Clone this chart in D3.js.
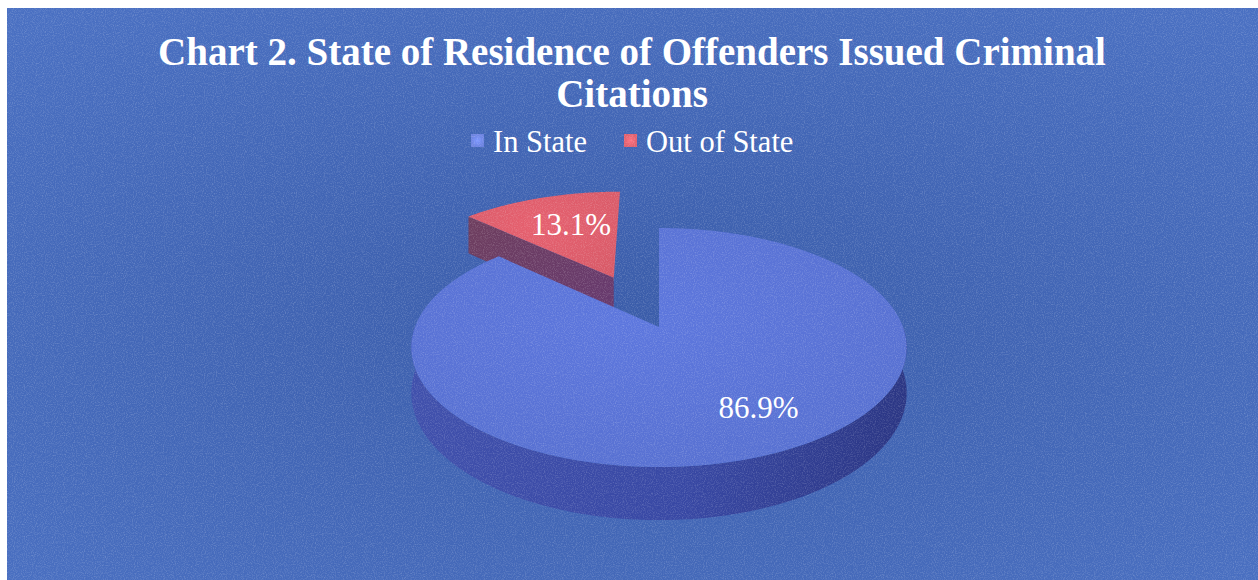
<!DOCTYPE html>
<html>
<head>
<meta charset="utf-8">
<script src="https://cdn.jsdelivr.net/npm/d3@7"></script>
<style>
  html, body { margin: 0; padding: 0; background: #fff; }
  svg { display: block; }
</style>
</head>
<body>
<div id="chart"></div>
<script>
// data
var categories = ["In State", "Out of State"];
var values = [86.9, 13.1];
var valueLabels = ["86.9%", "13.1%"];
var explode = [0, 0.5];          // fraction of radius each slice is pulled out
var titleLines = ["Chart 2. State of Residence of Offenders Issued Criminal", "Citations"];

// colours
var topColors = ["#5a73d6", "#de5d6b"];
var sideColors = ["#3848a4", "#66396f"];
var legendColors = ["#6c83e0", "#e0606e"];

var width = 1258, height = 580;
var serif = '"Liberation Serif", "Times New Roman", serif';

var svg = d3.select('#chart').append('svg')
    .attr('width', width)
    .attr('height', height);

var defs = svg.append('defs');

// background gradient
var bgGrad = defs.append('radialGradient')
    .attr('id', 'bgGrad')
    .attr('cx', '50%').attr('cy', '55%').attr('r', '70%');
bgGrad.append('stop').attr('offset', '0%').attr('stop-color', '#3a5ca9');
bgGrad.append('stop').attr('offset', '100%').attr('stop-color', '#4a70c2');

// light grain like the scan
var noise = defs.append('filter').attr('id', 'noise')
    .attr('x', 0).attr('y', 0).attr('width', '100%').attr('height', '100%');
noise.append('feTurbulence')
    .attr('type', 'fractalNoise')
    .attr('baseFrequency', 0.9)
    .attr('numOctaves', 2)
    .attr('seed', 3);
noise.append('feColorMatrix')
    .attr('type', 'matrix')
    .attr('values', '0 0 0 0 1  0 0 0 0 1  0 0 0 0 1  1.2 0 0 0 -0.52');

svg.append('rect')
    .attr('x', 7).attr('y', 8)
    .attr('width', width - 7).attr('height', height - 8)
    .attr('fill', 'url(#bgGrad)');

// side gradients
var blueSide = defs.append('linearGradient').attr('id', 'side0')
    .attr('gradientUnits', 'userSpaceOnUse')
    .attr('x1', 413).attr('x2', 905).attr('y1', 0).attr('y2', 0);
blueSide.append('stop').attr('offset', '0%').attr('stop-color', '#4050ac');
blueSide.append('stop').attr('offset', '55%').attr('stop-color', sideColors[0]);
blueSide.append('stop').attr('offset', '100%').attr('stop-color', '#2b3684');

var redSide = defs.append('linearGradient').attr('id', 'side1')
    .attr('x1', '0%').attr('x2', '100%').attr('y1', '0%').attr('y2', '100%');
redSide.append('stop').attr('offset', '0%').attr('stop-color', '#6e3e5e');
redSide.append('stop').attr('offset', '100%').attr('stop-color', sideColors[1]);

topColors.forEach(function(c, i) {
    var g = defs.append('radialGradient').attr('id', 'top' + i)
        .attr('cx', '45%').attr('cy', '40%').attr('r', '70%');
    g.append('stop').attr('offset', '0%').attr('stop-color', d3.color(c).brighter(0.1));
    g.append('stop').attr('offset', '100%').attr('stop-color', d3.color(c).darker(0.08));
});

// pie geometry (projected with a little perspective)
var cx = 659, cy = 327;
var depth = 44;       // thickness in px
var persp = 0.1715;   // far side shrinks
var xScale = d3.scaleLinear().domain([-1, 1]).range([cx - 244, cx + 244]);
var yScale = d3.scaleLinear().domain([-1, 1]).range([cy - 116, cy + 116]);

function project(X, Z, drop) {
    var den = 1 - persp * Z;
    return [xScale(X / den), yScale(Z / den) + (drop ? depth / den : 0)];
}

var pie = d3.pie().sort(null).value(function(d) { return d; });
var arcs = pie(values);

arcs.forEach(function(a, i) {
    var mid = (a.startAngle + a.endAngle) / 2;
    a.ox = explode[i] * Math.sin(mid);
    a.oz = -explode[i] * Math.cos(mid);
    a.index = i;
});

function pt(a, r, ang, drop) {
    return project(a.ox + r * Math.sin(ang), a.oz - r * Math.cos(ang), drop);
}

function arcPts(a, s, e, drop) {
    var n = Math.max(2, Math.ceil((e - s) / 0.01));
    return d3.range(n + 1).map(function(k) {
        return pt(a, 1, s + (e - s) * k / n, drop);
    });
}

var line = d3.line().curve(d3.curveLinearClosed);

// back slices first
var order = arcs.slice().sort(function(p, q) { return p.oz - q.oz; });

var pieG = svg.append('g');

order.forEach(function(a) {
    var i = a.index;
    var g = pieG.append('g');
    var s = a.startAngle, e = a.endAngle;

    // radial cut faces
    if (Math.sin(s) < -0.01) {
        g.append('path')
            .attr('d', line([pt(a, 0, s, false), pt(a, 1, s, false), pt(a, 1, s, true), pt(a, 0, s, true)]))
            .attr('fill', 'url(#side' + i + ')');
    }
    if (Math.sin(e) > 0.01) {
        g.append('path')
            .attr('d', line([pt(a, 0, e, false), pt(a, 1, e, false), pt(a, 1, e, true), pt(a, 0, e, true)]))
            .attr('fill', 'url(#side' + i + ')');
    }
    // outer wall, front half only
    var ws = Math.max(s, Math.PI / 2), we = Math.min(e, Math.PI * 1.5);
    if (we > ws) {
        var topEdge = arcPts(a, ws, we, false);
        var botEdge = arcPts(a, ws, we, true).reverse();
        g.append('path')
            .attr('d', line(topEdge.concat(botEdge)))
            .attr('fill', 'url(#side' + i + ')');
    }
    // top face
    var face = [pt(a, 0, s, false)].concat(arcPts(a, s, e, false));
    g.append('path')
        .attr('d', line(face))
        .attr('fill', 'url(#top' + i + ')');
});

// value labels
var labelR = [0.72, 0.62];
var labelTurn = [-0.12, 0.04];
arcs.forEach(function(a, i) {
    var mid = (a.startAngle + a.endAngle) / 2 + labelTurn[i];
    var p = pt(a, labelR[i], mid, false);
    svg.append('text')
        .attr('x', p[0])
        .attr('y', p[1])
        .attr('text-anchor', 'middle')
        .attr('dominant-baseline', 'central')
        .style('font-family', serif)
        .attr('font-size', 31)
        .attr('fill', '#ffffff')
        .text(valueLabels[i]);
});

// title
svg.selectAll('.title')
    .data(titleLines)
    .enter().append('text')
    .attr('class', 'title')
    .attr('x', 632)
    .attr('y', function(d, i) { return 65 + i * 42; })
    .attr('text-anchor', 'middle')
    .style('font-family', serif)
    .attr('font-weight', 'bold')
    .attr('font-size', 39)
    .attr('fill', '#ffffff')
    .text(function(d) { return d; });

// legend
var legendX = [471, 624];
categories.forEach(function(c, i) {
    var mg = defs.append('radialGradient').attr('id', 'mk' + i);
    mg.append('stop').attr('offset', '0%').attr('stop-color', d3.color(legendColors[i]).brighter(0.4));
    mg.append('stop').attr('offset', '100%').attr('stop-color', legendColors[i]);
    svg.append('rect')
        .attr('x', legendX[i])
        .attr('y', 134)
        .attr('width', 13)
        .attr('height', 13)
        .attr('fill', 'url(#mk' + i + ')');
    svg.append('text')
        .attr('x', legendX[i] + 22)
        .attr('y', 152)
        .style('font-family', serif)
        .attr('font-size', 30.5)
        .attr('fill', '#ffffff')
        .text(c);
});

// grain on top
svg.append('rect')
    .attr('x', 7).attr('y', 8)
    .attr('width', width - 7).attr('height', height - 8)
    .attr('filter', 'url(#noise)')
    .attr('opacity', 0.35)
    .attr('fill', '#fff')
    .attr('pointer-events', 'none');
</script>
</body>
</html>
